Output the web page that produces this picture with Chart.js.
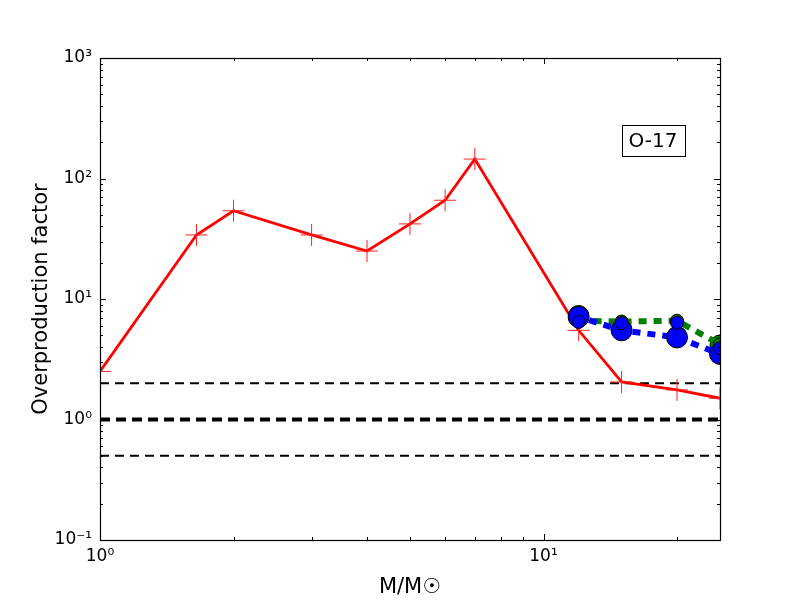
<!DOCTYPE html>
<html>
<head>
<meta charset="utf-8">
<script src="https://cdn.jsdelivr.net/npm/chart.js@4.4.0/dist/chart.umd.min.js"></script>
<style>
  html, body { margin: 0; padding: 0; background: #fff; }
  #wrap { width: 800px; height: 600px; }
</style>
</head>
<body>
<div id="wrap"><canvas id="c" width="800" height="600"></canvas></div>
<script>
// ---- data ----
const redMass = [1, 1.65, 2, 3, 4, 5, 6, 7, 12, 15, 20, 25];
const redFactor = [2.5, 34, 54, 34, 25, 42, 66, 145, 5.5, 2.05, 1.76, 1.5];

const massiveMass = [12, 15, 20, 25];
const greenBig = [7.3, 5.6, 4.9, 4.15];
const greenSmall = [6.6, 6.5, 6.6, 4.2];
const blueBig = [7.1, 5.5, 4.8, 3.5];
const blueSmall = [6.45, 6.3, 6.35, 3.9];

const refLevels = [2, 1, 0.5];
const xRange = [1, 25];
const yRange = [0.1, 1000];
const xTickLabels = { 1: '10\u2070', 10: '10\u00b9' };
const yTickLabels = { 0.1: '10\u207b\u00b9', 1: '10\u2070', 10: '10\u00b9', 100: '10\u00b2', 1000: '10\u00b3' };
const boxLabel = 'O-17';

const FONT = 'DejaVu Sans';

function xy(xs, ys) { return xs.map((x, i) => ({ x: x, y: ys[i] })); }

const datasets = [];
// reference dashed lines
refLevels.forEach(v => {
  const thick = v === 1;
  datasets.push({
    data: xy(xRange, [v, v]),
    borderColor: '#000',
    borderWidth: thick ? 4 : 1.8,
    borderDash: thick ? [10, 6] : [9, 6],
    pointRadius: 0,
    clip: 0,
    order: 10
  });
});
// red line with crosses
datasets.push({
  data: xy(redMass, redFactor),
  borderColor: '#ff0000',
  borderWidth: 2.8,
  pointStyle: 'cross',
  pointRadius: 11,
  pointBorderWidth: 1,
  pointBorderColor: '#ff2020',
  pointBackgroundColor: '#ff0000',
  clip: 0,
  order: 9
});
// green: dotted line through small markers, big markers without line
datasets.push({
  data: xy(massiveMass, greenBig),
  showLine: false,
  pointRadius: 10,
  pointBackgroundColor: '#008000',
  pointBorderColor: '#000',
  pointBorderWidth: 1,
  clip: 0,
  order: 8
});
datasets.push({
  data: xy(massiveMass, greenSmall),
  borderColor: '#008000',
  borderWidth: 6,
  borderDash: [8, 7],
  pointRadius: 6.5,
  pointBackgroundColor: '#008000',
  pointBorderColor: '#000',
  pointBorderWidth: 1,
  clip: 0,
  order: 7
});
// blue: dotted line through big markers
datasets.push({
  data: xy(massiveMass, blueBig),
  borderColor: '#0000ff',
  borderWidth: 6,
  borderDash: [8, 7],
  borderDashOffset: 4,
  pointRadius: 10.5,
  pointBackgroundColor: '#0000ff',
  pointBorderColor: '#000',
  pointBorderWidth: 1,
  clip: 0,
  order: 6
});
datasets.push({
  data: xy(massiveMass, blueSmall),
  showLine: false,
  pointRadius: 6.5,
  pointBackgroundColor: '#0000ff',
  pointBorderColor: '#000',
  pointBorderWidth: 1,
  clip: 0,
  order: 5
});

const framePlugin = {
  id: 'frame',
  afterDatasetsDraw(chart) {
    const ctx = chart.ctx;
    const a = chart.chartArea;
    const xs = chart.scales.x, ys = chart.scales.y;
    ctx.save();
    ctx.strokeStyle = '#000';
    ctx.lineWidth = 1;
    const tick = (len, isX, v) => {
      if (isX) {
        const px = Math.round(xs.getPixelForValue(v)) + 0.5;
        ctx.beginPath();
        ctx.moveTo(px, a.bottom); ctx.lineTo(px, a.bottom - len);
        ctx.moveTo(px, a.top); ctx.lineTo(px, a.top + len);
        ctx.stroke();
      } else {
        const py = Math.round(ys.getPixelForValue(v)) + 0.5;
        ctx.beginPath();
        ctx.moveTo(a.left, py); ctx.lineTo(a.left + len, py);
        ctx.moveTo(a.right, py); ctx.lineTo(a.right - len, py);
        ctx.stroke();
      }
    };
    for (let d = -1; d <= 3; d++) {
      for (let k = 1; k <= 9; k++) {
        const v = k * Math.pow(10, d);
        if (v >= yRange[0] && v <= yRange[1]) tick(k === 1 ? 6 : 3, false, v);
      }
    }
    for (let d = 0; d <= 1; d++) {
      for (let k = 1; k <= 9; k++) {
        const v = k * Math.pow(10, d);
        if (v >= xRange[0] && v <= xRange[1]) tick(k === 1 ? 6 : 3, true, v);
      }
    }
    ctx.lineWidth = 1.2;
    ctx.strokeRect(Math.round(a.left) + 0.5, Math.round(a.top) + 0.5,
                   Math.round(a.right - a.left), Math.round(a.bottom - a.top));
    // text box
    const cx = a.left + 0.892 * (a.right - a.left);
    const cy = a.top + 0.172 * (a.bottom - a.top);
    ctx.font = '20px "' + FONT + '"';
    ctx.textAlign = 'center';
    ctx.textBaseline = 'middle';
    const w = ctx.measureText(boxLabel).width;
    ctx.fillStyle = '#fff';
    const bw = w + 14, bh = 31;
    ctx.fillRect(cx - bw / 2, cy - bh / 2, bw, bh);
    ctx.lineWidth = 1;
    ctx.strokeRect(Math.round(cx - bw / 2) + 0.5, Math.round(cy - bh / 2) + 0.5, Math.round(bw), bh);
    ctx.fillStyle = '#000';
    ctx.fillText(boxLabel, cx, cy + 1);
    ctx.restore();
  }
};

new Chart(document.getElementById('c'), {
  type: 'line',
  data: { datasets: datasets },
  plugins: [framePlugin],
  options: {
    responsive: false,
    animation: false,
    devicePixelRatio: 1,
    layout: { padding: { left: 0, top: 58, right: 80, bottom: 0 } },
    plugins: { legend: { display: false }, tooltip: { enabled: false } },
    elements: { line: { tension: 0 } },
    scales: {
      x: {
        type: 'logarithmic',
        min: xRange[0], max: xRange[1],
        grid: { display: false, drawTicks: false },
        border: { display: false },
        ticks: {
          autoSkip: false, maxRotation: 0, padding: 6,
          color: '#000', font: { family: FONT, size: 17 },
          callback: (v) => (xTickLabels[v] !== undefined ? xTickLabels[v] : '')
        },
        title: { display: true, text: 'M/M\u2609', color: '#000', font: { family: FONT, size: 21 }, padding: { top: 2, bottom: 0 } },
        afterFit: (s) => { s.height = 60; }
      },
      y: {
        type: 'logarithmic',
        min: yRange[0], max: yRange[1],
        grid: { display: false, drawTicks: false },
        border: { display: false },
        ticks: {
          autoSkip: false, padding: 8,
          color: '#000', font: { family: FONT, size: 17 },
          callback: (v) => (yTickLabels[v] !== undefined ? yTickLabels[v] : '')
        },
        title: { display: true, text: 'Overproduction factor', color: '#000', font: { family: FONT, size: 21 }, padding: { top: 29, bottom: 4 } },
        afterFit: (s) => { s.width = 100; }
      }
    }
  }
});
</script>
</body>
</html>
